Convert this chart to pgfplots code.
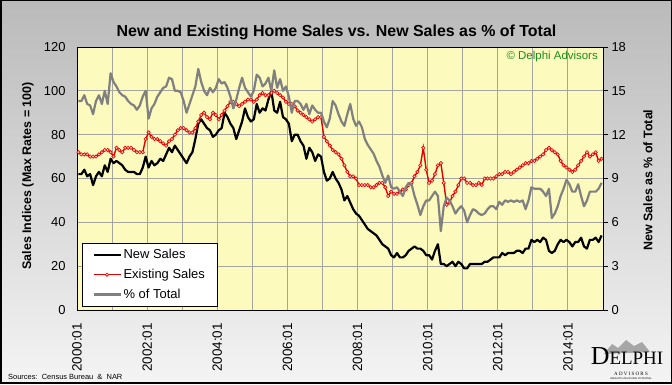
\documentclass[border=0pt]{standalone}
\usepackage{fontspec}
\setmainfont{Liberation Sans}
\newfontfamily\seriffont{Liberation Serif}
\usepackage{pgfplots}
\pgfplotsset{compat=1.18}
\usepackage{pgfplotstable}
\definecolor{plotyellow}{RGB}{252,250,188}
\definecolor{gridgray}{RGB}{165,165,160}
\definecolor{exred}{RGB}{228,0,0}
\definecolor{markfill}{RGB}{255,200,190}
\definecolor{pctgray}{RGB}{128,128,128}
\definecolor{cgreen}{RGB}{30,140,30}
\pgfplotstableread{
m new exist pct
0 62 72 14.3
1 62 71 14.3
2 64 71 14.7
3 61 71 14.1
4 62 70 14.0
5 57 70 13.4
6 61 70 14.3
7 63 71 14.7
8 61 72 14.1
9 66 73 15.0
10 63 73 14.1
11 69 72 16.2
12 67 70 15.6
13 68 74 15.3
14 67 73 14.9
15 66 72 14.7
16 64 74 14.6
17 63 74 14.3
18 63 74 14.1
19 63 73 14.0
20 62 72 13.7
21 62 72 14.0
22 65 72 14.6
23 70 78 15.0
24 65 81 13.1
25 68 79 13.8
26 66 78 14.1
27 67 78 14.6
28 69 77 14.9
29 68 76 15.2
30 71 75 15.3
31 74 77 15.9
32 72 78 15.8
33 75 80 15.0
34 73 82 15.0
35 71 83 14.9
36 69 83 14.3
37 67 82 13.5
38 70 81 14.1
39 72 81 14.7
40 78 83 15.3
41 85 86 16.5
42 87 89 15.6
43 85 90 15.0
44 83 88 14.7
45 82 87 15.2
46 79 90 14.9
47 80 89 15.2
48 82 87 15.8
49 83 89 15.5
50 90 91 15.6
51 88 93 15.2
52 85 95 14.6
53 83 95 13.8
54 78 94 14.4
55 82 93 15.2
56 86 94 15.9
57 92 95 15.2
58 88 96 14.9
59 86 96 14.6
60 87 95 15.0
61 94 96 16.1
62 90 98 15.9
63 92 99 15.3
64 91 98 15.5
65 96 98 15.9
66 100 99 15.0
67 91 100 16.4
68 90 99 15.2
69 95 98 15.8
70 88 97 15.0
71 87 95 15.3
72 85 94 14.6
73 77 94 13.5
74 80 93 14.3
75 80 91 14.3
76 77 90 14.1
77 75 89 13.7
78 69 88 14.1
79 74 87 13.4
80 72 86 14.0
81 68 87 13.7
82 71 88 13.5
83 70 88 13.5
84 63 79 12.9
85 59 77 12.5
86 60 75 13.1
87 63 73 14.3
88 60 72 14.0
89 58 71 13.4
90 55 69 12.9
91 50 66 12.6
92 52 63 13.4
93 49 61 14.1
94 46 61 13.1
95 44 60 12.6
96 43 57 12.9
97 41 57 12.5
98 39 57 11.7
99 37 57 11.3
100 36 56 11.0
101 35 56 10.7
102 34 57 10.2
103 32 58 9.8
104 30 58 9.2
105 29 56 8.7
106 28 52 9.2
107 25 54 8.4
108 24 53 8.3
109 26 53 8.4
110 24 54 8.1
111 24 55 7.8
112 25 55 8.4
113 27 57 8.7
114 28 58 8.6
115 29 61 7.8
116 28 63 7.2
117 28 66 6.5
118 27 74 7.1
119 25 64 7.5
120 25 58 7.5
121 23 59 7.8
122 27 62 8.1
123 30 66 7.8
124 21 67 5.4
125 21 58 7.1
126 20 48 7.7
127 21 49 7.5
128 22 52 7.1
129 20 54 6.6
130 22 57 6.9
131 21 60 7.1
132 19 60 6.8
133 19 58 6.0
134 21 58 6.5
135 21 57 6.9
136 21 57 6.8
137 21 58 6.6
138 21 57 6.5
139 22 60 6.6
140 22 60 6.9
141 23 60 7.1
142 24 60 7.1
143 24 61 6.9
144 24 62 7.4
145 26 62 7.2
146 25 63 7.5
147 26 63 7.4
148 26 62 7.5
149 26 63 7.4
150 27 64 7.5
151 27 65 7.4
152 26 66 7.5
153 28 67 6.9
154 28 67 7.5
155 32 68 8.4
156 31 68 8.3
157 32 69 8.3
158 31 70 8.3
159 33 71 8.1
160 32 73 7.8
161 27 74 8.3
162 26 73 6.3
163 27 72 6.6
164 30 71 7.1
165 32 68 7.8
166 31 66 8.3
167 32 65 8.9
168 31 64 8.6
169 29 63 8.1
170 31 64 8.1
171 31 66 8.6
172 33 68 7.8
173 29 70 7.1
174 28 72 7.5
175 32 70 8.1
176 32 71 8.1
177 33 72 8.1
178 31 68 8.3
179 34 69 8.7
}\datatable
\begin{document}
\begin{tikzpicture}[x=1bp,y=1bp]
\shade[top color={rgb,255:red,186;green,186;blue,186}, bottom color={rgb,255:red,244;green,244;blue,244}] (0,0) rectangle (672,384);
\draw[line width=1.5bp] (0.75,0.75) rectangle (671.25,383.25);
\node[font=\bfseries\fontsize{16}{18}\selectfont] at (336.5,352) {New and Existing Home Sales vs. New Sales as \% of Total};
\node[anchor=west, font=\fontsize{7.5}{9}\selectfont, inner sep=0] at (8,7) {Sources:\ \ Census Bureau \ \&\ \ NAR};
\fill[gray!70] (604,30) -- (612,40) -- (618,36) -- (626,44) -- (634,38) -- (642,42) -- (650,32) -- cycle;
\node[font=\seriffont\fontsize{19}{19}\selectfont, inner sep=0, anchor=base] at (627,19) {\fontsize{26}{26}\selectfont D\fontsize{19}{19}\selectfont ELPHI};
\node[font=\seriffont\fontsize{5}{5}\selectfont, inner sep=0] at (631,10) {A\ D\ V\ I\ S\ O\ R\ S};
\node[font=\fontsize{2.5}{3}\selectfont, inner sep=0] at (631,5) {INSIGHTS UNLOCKING POTENTIAL};
\begin{axis}[
  at={(77bp,74bp)}, anchor=south west,
  scale only axis, width=526bp, height=263bp,
  xmin=-0.5, xmax=179.5, ymin=0, ymax=120,
  axis background/.style={fill=plotyellow},
  axis line style={black, line width=0.8bp},
  grid=major, grid style={gridgray, line width=0.9bp},
  xtick={-0.5,11.5,...,179.5},
  xticklabels={2000:01,,2002:01,,2004:01,,2006:01,,2008:01,,2010:01,,2012:01,,2014:01,},
  ytick={0,20,...,120},
  major tick length=0pt,
  x tick label style={rotate=90, anchor=east, inner xsep=13bp, font=\fontsize{13.5}{13.5}\selectfont},
  y tick label style={font=\fontsize{13}{13}\selectfont, xshift=-8bp},
  /pgf/number format/assume math mode=true,
  ylabel={Sales Indices (Max Rates = 100)},
  every axis y label/.style={at={(axis description cs:-0.0932,0.51)}, rotate=90, anchor=center, font=\bfseries\fontsize{12.5}{13}\selectfont},
  clip=false,
]
\addplot[black, line width=2.2bp, line join=round] table[x=m, y=new] {\datatable};
\addplot[exred, line width=1.4bp, mark=*, mark size=1.7bp, mark options={fill=markfill, draw=exred, line width=0.6bp}] table[x=m, y=exist] {\datatable};
\node[anchor=north east, inner sep=0, text=cgreen, font=\fontsize{11.5}{12}\selectfont] at (rel axis cs:0.9905,0.985) {\textcopyright\ Delphi Advisors};
\end{axis}
\begin{axis}[
  at={(77bp,74bp)}, anchor=south west,
  scale only axis, width=526bp, height=263bp,
  xmin=-0.5, xmax=179.5, ymin=0, ymax=18,
  axis x line=none,
  axis y line*=right,
  axis line style={black, line width=0.8bp},
  ytick={0,3,...,18},
  ytick style={black, line width=0.8bp},
  major tick length=5bp, tick align=outside,
  y tick label style={font=\fontsize{13}{13}\selectfont, anchor=west, xshift=0bp},
  /pgf/number format/assume math mode=true,
  ylabel={New Sales as \% of Total},
  every axis y label/.style={at={(axis description cs:1.0856,0.494)}, rotate=90, anchor=center, font=\bfseries\fontsize{12.5}{13}\selectfont},
  legend image code/.code={\draw[mark repeat=2,mark phase=2,#1] plot coordinates {(0bp,0bp) (13.5bp,0bp) (27bp,0bp)};},
  legend style={at={(0.0095,0.2548)}, anchor=north west, draw=black, line width=0.8bp, fill=white, font=\fontsize{13}{13}\selectfont, inner xsep=10bp, inner ysep=4bp, row sep=5bp},
  legend cell align=left,
]
\addlegendimage{black, line width=2.2bp}
\addlegendentry{New Sales}
\addlegendimage{exred, line width=1.4bp, mark=*, mark size=1.7bp, mark options={fill=markfill, draw=exred, line width=0.6bp}}
\addlegendentry{Existing Sales}
\addplot[pctgray, line width=2.2bp, line join=round] table[x=m, y=pct] {\datatable};
\addlegendentry{\% of Total}
\end{axis}
\end{tikzpicture}
\end{document}
